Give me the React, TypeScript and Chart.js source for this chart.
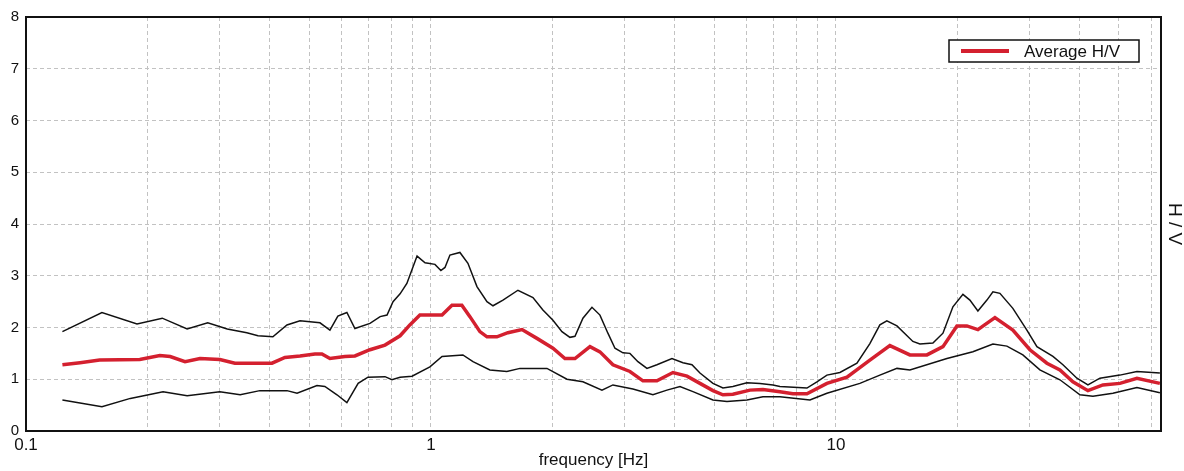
import React, { useEffect, useRef } from 'react';
import { Chart, registerables } from 'chart.js';

Chart.register(...registerables);

// H/V spectral ratio: mean curve with its ± standard deviation envelope
const upperFreq = [
  0.123, 0.154, 0.188, 0.217, 0.25, 0.281, 0.314, 0.351, 0.374, 0.407, 0.441, 0.475, 0.532, 0.563,
  0.589, 0.62, 0.649, 0.707, 0.749, 0.779, 0.806, 0.839, 0.872, 0.924, 0.967, 1.023, 1.058, 1.083,
  1.114, 1.179, 1.234, 1.299, 1.375, 1.423, 1.506, 1.64, 1.786, 1.89, 2.001, 2.106, 2.204, 2.268,
  2.373, 2.498, 2.614, 2.735, 2.847, 2.979, 3.1, 3.244, 3.415, 3.614, 3.937, 4.191, 4.411, 4.616,
  4.97, 5.26, 5.567, 6.029, 6.493, 6.99, 7.274, 8.481, 8.977, 9.502, 10.23, 11.27, 12.13, 12.84,
  13.36, 14.15, 15.49, 16.12, 17.36, 18.38, 19.45, 20.59, 21.42, 22.42, 23.6, 24.42, 25.41, 27.35,
  29.62, 31.36, 34.35, 36.36, 39.37, 41.91, 44.87, 50.27, 55.38, 63.1,
];
const upperHV = [
  1.92, 2.29, 2.07, 2.18, 1.97, 2.09, 1.97, 1.9, 1.84, 1.82, 2.05, 2.13, 2.09, 1.95,
  2.22, 2.29, 1.98, 2.08, 2.21, 2.24, 2.5, 2.65, 2.85, 3.38, 3.25, 3.22, 3.1, 3.16,
  3.4, 3.45, 3.24, 2.79, 2.5, 2.42, 2.53, 2.72, 2.58, 2.34, 2.14, 1.92, 1.81, 1.83,
  2.18, 2.39, 2.24, 1.89, 1.6, 1.51, 1.5, 1.34, 1.21, 1.28, 1.4, 1.32, 1.28, 1.12,
  0.92, 0.83, 0.86, 0.93, 0.92, 0.89, 0.86, 0.83, 0.95, 1.08, 1.13, 1.31, 1.69, 2.05,
  2.13, 2.03, 1.73, 1.68, 1.7, 1.89, 2.4, 2.64, 2.53, 2.32, 2.53, 2.69, 2.66, 2.37,
  1.95, 1.63, 1.44, 1.28, 1.02, 0.89, 1.02, 1.08, 1.15, 1.12,
];

const avgFreq = [
  0.123, 0.136, 0.152, 0.191, 0.214, 0.227, 0.247, 0.269, 0.301, 0.328, 0.405, 0.436, 0.475, 0.517,
  0.538, 0.563, 0.613, 0.649, 0.707, 0.77, 0.839, 0.887, 0.939, 1.065, 1.127, 1.192, 1.248, 1.321,
  1.375, 1.455, 1.549, 1.678, 1.827, 2.001, 2.142, 2.268, 2.47, 2.614, 2.814, 3.1, 3.338, 3.614,
  3.959, 4.288, 4.616, 4.97, 5.26, 5.567, 6.134, 6.604, 7.274, 7.831, 8.481, 9.502, 10.65, 12.13,
  13.59, 15.23, 16.78, 18.38, 19.9, 21.06, 22.42, 24.7, 27.35, 30.13, 33.19, 35.74, 38.48, 41.91,
  45.64, 50.27, 55.38, 63.1,
];
const avgHV = [
  1.28, 1.32, 1.37, 1.38, 1.46, 1.44, 1.34, 1.4, 1.38, 1.31, 1.31, 1.42, 1.45, 1.49,
  1.49, 1.4, 1.44, 1.45, 1.57, 1.66, 1.84, 2.05, 2.24, 2.24, 2.43, 2.43, 2.21, 1.92,
  1.82, 1.82, 1.9, 1.96, 1.79, 1.6, 1.4, 1.4, 1.63, 1.53, 1.28, 1.15, 0.97, 0.97,
  1.13, 1.06, 0.92, 0.78, 0.7, 0.71, 0.79, 0.8, 0.76, 0.72, 0.72, 0.92, 1.04, 1.37,
  1.65, 1.47, 1.47, 1.63, 2.03, 2.03, 1.96, 2.19, 1.95, 1.57, 1.31, 1.18, 0.95, 0.78,
  0.89, 0.92, 1.02, 0.92,
];

const lowerFreq = [
  0.123, 0.154, 0.181, 0.218, 0.25, 0.301, 0.338, 0.378, 0.441, 0.467, 0.523, 0.547, 0.586, 0.62,
  0.661, 0.699, 0.77, 0.801, 0.839, 0.898, 0.994, 1.065, 1.199, 1.27, 1.398, 1.54, 1.659, 1.934,
  2.167, 2.373, 2.644, 2.814, 3.153, 3.533, 3.826, 4.12, 4.436, 4.97, 5.382, 6.029, 6.604, 7.274,
  8.627, 9.502, 11.46, 12.84, 14.15, 15.23, 18.8, 21.79, 24.42, 26.44, 28.95, 31.89, 35.74, 40.05,
  43.12, 48.31, 55.38, 63.1,
];
const lowerHV = [
  0.6, 0.47, 0.63, 0.76, 0.68, 0.76, 0.7, 0.78, 0.78, 0.73, 0.88, 0.86, 0.7, 0.55,
  0.92, 1.04, 1.05, 0.99, 1.04, 1.06, 1.24, 1.44, 1.47, 1.34, 1.18, 1.15, 1.21, 1.21,
  1.0, 0.95, 0.79, 0.89, 0.81, 0.7, 0.79, 0.86, 0.76, 0.6, 0.57, 0.6, 0.66, 0.66,
  0.6, 0.73, 0.92, 1.08, 1.21, 1.18, 1.4, 1.53, 1.68, 1.64, 1.47, 1.18, 0.99, 0.7,
  0.67, 0.73, 0.84, 0.74,
];

// Frequency axis: log grid at 1..9 x 10^n, labels only on the decades
const freqMin = 0.1;
const freqMax = 63.5;
const gridFreqs = [
  0.1, 0.2, 0.3, 0.4, 0.5, 0.6, 0.7, 0.8, 0.9,
  1, 2, 3, 4, 5, 6, 7, 8, 9,
  10, 20, 30, 40, 50, 60,
];
const decadeLabels = ['0.1', '1', '10'];
const hvMin = 0;
const hvMax = 8;

const FONT = "'Liberation Sans', Arial, Helvetica, sans-serif";
const RED = '#d4202f';
const GRID = '#c2c2c2';

const toPoints = (xs: number[], ys: number[]) => xs.map((x, i) => ({ x, y: ys[i] }));

const framePlugin = {
  id: 'frameAndLegend',
  afterDraw(chart: any) {
    const { ctx, chartArea } = chart;
    const { left, top, right, bottom } = chartArea;
    ctx.save();
    ctx.strokeStyle = '#111';
    ctx.lineWidth = 2;
    ctx.strokeRect(left, top, right - left, bottom - top);

    // boxed legend inside the top-right of the plot
    const bw = 190;
    const bh = 22;
    const bx = right - 22 - bw;
    const by = top + 23;
    ctx.fillStyle = '#fff';
    ctx.fillRect(bx, by, bw, bh);
    ctx.lineWidth = 1.5;
    ctx.strokeStyle = '#111';
    ctx.strokeRect(bx, by, bw, bh);
    ctx.strokeStyle = RED;
    ctx.lineWidth = 4;
    ctx.beginPath();
    ctx.moveTo(bx + 12, by + bh / 2);
    ctx.lineTo(bx + 60, by + bh / 2);
    ctx.stroke();
    ctx.fillStyle = '#111';
    ctx.font = `17px ${FONT}`;
    ctx.textBaseline = 'middle';
    ctx.textAlign = 'left';
    ctx.fillText('Average H/V', bx + 75, by + bh / 2 + 1);
    ctx.restore();
  },
};

export default function App() {
  const canvasRef = useRef<HTMLCanvasElement | null>(null);

  useEffect(() => {
    const canvas = canvasRef.current;
    if (!canvas) return;
    Chart.defaults.font.family = FONT;
    Chart.defaults.color = '#111';

    const chart = new Chart(canvas, {
      type: 'line',
      data: {
        datasets: [
          {
            label: 'upper',
            data: toPoints(upperFreq, upperHV),
            borderColor: '#111',
            borderWidth: 1.5,
            pointRadius: 0,
            tension: 0,
          },
          {
            label: 'lower',
            data: toPoints(lowerFreq, lowerHV),
            borderColor: '#111',
            borderWidth: 1.5,
            pointRadius: 0,
            tension: 0,
          },
          {
            label: 'Average H/V',
            data: toPoints(avgFreq, avgHV),
            borderColor: RED,
            borderWidth: 3.5,
            pointRadius: 0,
            tension: 0,
          },
        ],
      },
      options: {
        responsive: false,
        animation: false,
        layout: { padding: { top: 17, left: 0, right: 0, bottom: 0 } },
        plugins: {
          legend: { display: false },
          tooltip: { enabled: false },
        },
        scales: {
          x: {
            type: 'logarithmic',
            min: freqMin,
            max: freqMax,
            afterBuildTicks: (scale: any) => {
              scale.ticks = gridFreqs.map((v) => ({ value: v }));
            },
            afterFit: (scale: any) => {
              scale.height = 40;
            },
            ticks: {
              autoSkip: false,
              maxRotation: 0,
              padding: 4,
              font: { size: 17 },
              color: '#111',
              callback: (value: any) => {
                const s = String(Number(value));
                return decadeLabels.includes(s) ? s : '';
              },
            },
            grid: { color: GRID, lineWidth: 1, drawTicks: false },
            border: { display: false, dash: [4, 3] },
            title: {
              display: true,
              text: 'frequency [Hz]',
              font: { size: 17 },
              color: '#111',
              padding: 0,
            },
          },
          y: {
            type: 'linear',
            position: 'left',
            min: hvMin,
            max: hvMax,
            afterFit: (scale: any) => {
              scale.width = 26;
            },
            ticks: { stepSize: 1, padding: 7, font: { size: 15 }, color: '#111' },
            grid: { color: GRID, lineWidth: 1, drawTicks: false },
            border: { display: false, dash: [4, 3] },
          },
          y2: {
            type: 'linear',
            position: 'right',
            min: hvMin,
            max: hvMax,
            afterFit: (scale: any) => {
              scale.width = 23;
            },
            ticks: { display: false },
            grid: { display: false, drawTicks: false },
            border: { display: false },
            title: {
              display: true,
              text: 'H / V',
              font: { size: 19, lineHeight: 1 },
              color: '#111',
              padding: 0,
            },
          },
        },
      },
      plugins: [framePlugin],
    });

    return () => chart.destroy();
  }, []);

  return (
    <div style={{ position: 'absolute', left: 0, top: 0, width: 1184, height: 471, background: '#fff' }}>
      <canvas ref={canvasRef} width={1184} height={471} style={{ display: 'block' }} />
    </div>
  );
}
